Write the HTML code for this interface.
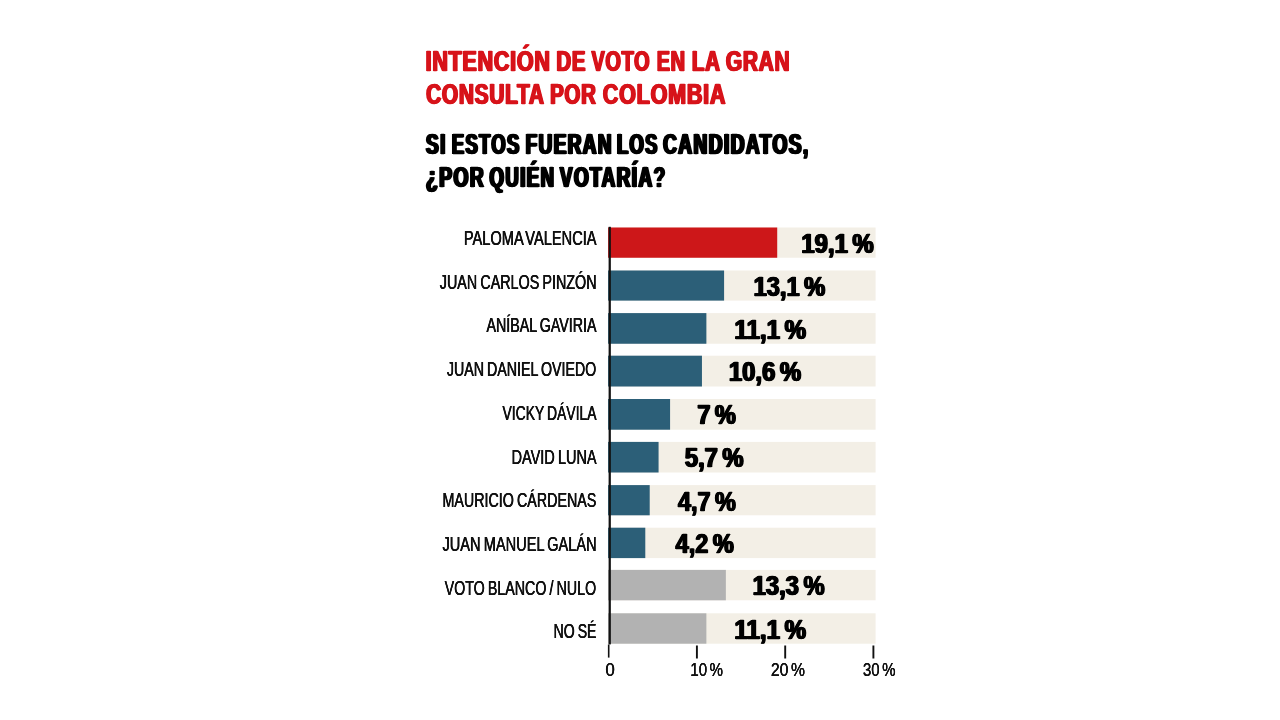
<!DOCTYPE html>
<html lang="es"><head><meta charset="utf-8"><title>Intención de voto en la Gran Consulta por Colombia</title>
<style>
html,body{margin:0;padding:0;background:#fff;}
body{width:1280px;height:720px;position:relative;overflow:hidden;font-family:"Liberation Sans",sans-serif;}
.t{position:absolute;white-space:pre;line-height:1;transform-origin:0 0;margin:0;padding:0;}
.b{position:absolute;}
.g{margin:0;padding:0;font-size:0;font-weight:normal;}
</style></head><body>
<svg class="b" style="left:0;top:0" width="1280" height="720" viewBox="0 0 1280 720" role="img" aria-label="Gráfico de barras">
<rect x="608.10" y="227.50" width="267.50" height="30.25" fill="#f3efe6"/><rect x="608.10" y="227.50" width="169.11" height="30.25" fill="#cd1719"/>
<rect x="608.10" y="270.50" width="267.50" height="30.10" fill="#f3efe6"/><rect x="608.10" y="270.50" width="115.99" height="30.10" fill="#2c5f78"/>
<rect x="608.10" y="313.10" width="267.50" height="30.65" fill="#f3efe6"/><rect x="608.10" y="313.10" width="98.28" height="30.65" fill="#2c5f78"/>
<rect x="608.10" y="355.70" width="267.50" height="30.80" fill="#f3efe6"/><rect x="608.10" y="355.70" width="93.85" height="30.80" fill="#2c5f78"/>
<rect x="608.10" y="399.00" width="267.50" height="30.70" fill="#f3efe6"/><rect x="608.10" y="399.00" width="61.98" height="30.70" fill="#2c5f78"/>
<rect x="608.10" y="441.90" width="267.50" height="30.60" fill="#f3efe6"/><rect x="608.10" y="441.90" width="50.47" height="30.60" fill="#2c5f78"/>
<rect x="608.10" y="485.10" width="267.50" height="30.20" fill="#f3efe6"/><rect x="608.10" y="485.10" width="41.61" height="30.20" fill="#2c5f78"/>
<rect x="608.10" y="527.70" width="267.50" height="30.40" fill="#f3efe6"/><rect x="608.10" y="527.70" width="37.19" height="30.40" fill="#2c5f78"/>
<rect x="608.10" y="569.90" width="267.50" height="30.40" fill="#f3efe6"/><rect x="608.10" y="569.90" width="117.76" height="30.40" fill="#b2b2b2"/>
<rect x="608.10" y="613.30" width="267.50" height="30.40" fill="#f3efe6"/><rect x="608.10" y="613.30" width="98.28" height="30.40" fill="#b2b2b2"/>
<rect x="608.6" y="226.8" width="2.25" height="417.6" fill="#111"/>
<rect x="607.90" y="644.50" width="1.6" height="13.10" fill="#111"/><rect x="695.95" y="645.50" width="1.9" height="13.00" fill="#111"/><rect x="784.25" y="645.50" width="1.9" height="13.00" fill="#111"/><rect x="872.45" y="645.50" width="1.9" height="13.00" fill="#111"/>
</svg>
<h1 class="g"><span class="t" id="t1w0" style="left:0;top:46px;font-size:29.65px;font-weight:700;color:#d7131a;transform:translateX(425.57px) scaleX(0.7268);text-shadow:1.169px 0 0 #d7131a,-1.169px 0 0 #d7131a;-webkit-text-stroke:0.5px #d7131a;letter-spacing:1.0px;">INTENCIÓN</span> <span class="t" id="t1w1" style="left:0;top:46px;font-size:29.65px;font-weight:700;color:#d7131a;transform:translateX(556.46px) scaleX(0.6875);text-shadow:1.236px 0 0 #d7131a,-1.236px 0 0 #d7131a;-webkit-text-stroke:0.5px #d7131a;letter-spacing:1.0px;">DE</span> <span class="t" id="t1w2" style="left:0;top:46px;font-size:29.65px;font-weight:700;color:#d7131a;transform:translateX(591.51px) scaleX(0.6712);text-shadow:1.266px 0 0 #d7131a,-1.266px 0 0 #d7131a;-webkit-text-stroke:0.5px #d7131a;letter-spacing:1.0px;">VOTO</span> <span class="t" id="t1w3" style="left:0;top:46px;font-size:29.65px;font-weight:700;color:#d7131a;transform:translateX(656.73px) scaleX(0.6727);text-shadow:1.264px 0 0 #d7131a,-1.264px 0 0 #d7131a;-webkit-text-stroke:0.5px #d7131a;letter-spacing:1.0px;">EN</span> <span class="t" id="t1w4" style="left:0;top:46px;font-size:29.65px;font-weight:700;color:#d7131a;transform:translateX(691.87px) scaleX(0.6933);text-shadow:1.226px 0 0 #d7131a,-1.226px 0 0 #d7131a;-webkit-text-stroke:0.5px #d7131a;letter-spacing:1.0px;">LA</span> <span class="t" id="t1w5" style="left:0;top:46px;font-size:29.65px;font-weight:700;color:#d7131a;transform:translateX(725.83px) scaleX(0.7067);text-shadow:1.203px 0 0 #d7131a,-1.203px 0 0 #d7131a;-webkit-text-stroke:0.5px #d7131a;letter-spacing:1.0px;">GRAN</span></h1>
<h1 class="g"><span class="t" id="t2w0" style="left:0;top:79px;font-size:29.65px;font-weight:700;color:#d7131a;transform:translateX(426.19px) scaleX(0.7042);text-shadow:1.207px 0 0 #d7131a,-1.207px 0 0 #d7131a;-webkit-text-stroke:0.5px #d7131a;letter-spacing:1.0px;">CONSULTA</span> <span class="t" id="t2w1" style="left:0;top:79px;font-size:29.65px;font-weight:700;color:#d7131a;transform:translateX(550.10px) scaleX(0.6901);text-shadow:1.232px 0 0 #d7131a,-1.232px 0 0 #d7131a;-webkit-text-stroke:0.5px #d7131a;letter-spacing:1.0px;">POR</span> <span class="t" id="t2w2" style="left:0;top:79px;font-size:29.65px;font-weight:700;color:#d7131a;transform:translateX(602.77px) scaleX(0.7287);text-shadow:1.167px 0 0 #d7131a,-1.167px 0 0 #d7131a;-webkit-text-stroke:0.5px #d7131a;letter-spacing:1.0px;">COLOMBIA</span></h1>
<h2 class="g"><span class="t" id="t3w0" style="left:0;top:129px;font-size:29.65px;font-weight:700;color:#000;transform:translateX(426.04px) scaleX(0.6364);text-shadow:1.886px 0 0 #000,-1.886px 0 0 #000;-webkit-text-stroke:0.5px #000;letter-spacing:2.3px;">SI</span> <span class="t" id="t3w1" style="left:0;top:129px;font-size:29.65px;font-weight:700;color:#000;transform:translateX(451.92px) scaleX(0.6161);text-shadow:1.948px 0 0 #000,-1.948px 0 0 #000;-webkit-text-stroke:0.5px #000;letter-spacing:2.3px;">ESTOS</span> <span class="t" id="t3w2" style="left:0;top:129px;font-size:29.65px;font-weight:700;color:#000;transform:translateX(525.61px) scaleX(0.6363);text-shadow:1.886px 0 0 #000,-1.886px 0 0 #000;-webkit-text-stroke:0.5px #000;letter-spacing:2.3px;">FUERAN</span> <span class="t" id="t3w3" style="left:0;top:129px;font-size:29.65px;font-weight:700;color:#000;transform:translateX(616.95px) scaleX(0.6164);text-shadow:1.947px 0 0 #000,-1.947px 0 0 #000;-webkit-text-stroke:0.5px #000;letter-spacing:2.3px;">LOS</span> <span class="t" id="t3w4" style="left:0;top:129px;font-size:29.65px;font-weight:700;color:#000;transform:translateX(663.09px) scaleX(0.6417);text-shadow:1.870px 0 0 #000,-1.870px 0 0 #000;-webkit-text-stroke:0.5px #000;letter-spacing:2.3px;">CANDIDATOS,</span></h2>
<h2 class="g"><span class="t" id="t4w0" style="left:0;top:162px;font-size:29.65px;font-weight:700;color:#000;transform:translateX(425.99px) scaleX(0.6465);text-shadow:1.856px 0 0 #000,-1.856px 0 0 #000;-webkit-text-stroke:0.5px #000;letter-spacing:2.3px;">¿POR</span> <span class="t" id="t4w1" style="left:0;top:162px;font-size:29.65px;font-weight:700;color:#000;transform:translateX(489.54px) scaleX(0.6251);text-shadow:1.920px 0 0 #000,-1.920px 0 0 #000;-webkit-text-stroke:0.5px #000;letter-spacing:2.3px;">QUIÉN</span> <span class="t" id="t4w2" style="left:0;top:162px;font-size:29.65px;font-weight:700;color:#000;transform:translateX(559.89px) scaleX(0.6363);text-shadow:1.886px 0 0 #000,-1.886px 0 0 #000;-webkit-text-stroke:0.5px #000;letter-spacing:2.3px;">VOTARÍA?</span></h2>
<div class="t" id="n0" style="left:0;top:229px;font-size:19.80px;font-weight:400;color:#111;transform:translateX(463.83px) scaleX(0.7392);text-shadow:0.271px 0 0 #111,-0.271px 0 0 #111;word-spacing:-2.2px;">PALOMA VALENCIA</div>
<div class="t" id="v0" style="left:0;top:230px;font-size:28.00px;font-weight:700;color:#000;transform:translateX(801.31px) scaleX(0.8537);text-shadow:0.996px 0 0 #000,-0.996px 0 0 #000;-webkit-text-stroke:0.5px #000;word-spacing:-2.4px;">19,1 %</div>
<div class="t" id="n1" style="left:0;top:273px;font-size:19.80px;font-weight:400;color:#111;transform:translateX(439.77px) scaleX(0.7249);text-shadow:0.276px 0 0 #111,-0.276px 0 0 #111;word-spacing:-1.2px;">JUAN CARLOS PINZÓN</div>
<div class="t" id="v1" style="left:0;top:273px;font-size:28.00px;font-weight:700;color:#000;transform:translateX(753.59px) scaleX(0.8455);text-shadow:1.005px 0 0 #000,-1.005px 0 0 #000;-webkit-text-stroke:0.5px #000;word-spacing:-2.4px;">13,1 %</div>
<div class="t" id="n2" style="left:0;top:316px;font-size:19.80px;font-weight:400;color:#111;transform:translateX(486.47px) scaleX(0.7208);text-shadow:0.277px 0 0 #111,-0.277px 0 0 #111;word-spacing:-1.2px;">ANÍBAL GAVIRIA</div>
<div class="t" id="v2" style="left:0;top:316px;font-size:28.00px;font-weight:700;color:#000;transform:translateX(734.40px) scaleX(0.8609);text-shadow:0.987px 0 0 #000,-0.987px 0 0 #000;-webkit-text-stroke:0.5px #000;word-spacing:-2.4px;">11,1 %</div>
<div class="t" id="n3" style="left:0;top:360px;font-size:19.80px;font-weight:400;color:#111;transform:translateX(446.88px) scaleX(0.7183);text-shadow:0.278px 0 0 #111,-0.278px 0 0 #111;word-spacing:-1.2px;">JUAN DANIEL OVIEDO</div>
<div class="t" id="v3" style="left:0;top:358px;font-size:28.00px;font-weight:700;color:#000;transform:translateX(728.84px) scaleX(0.8526);text-shadow:0.997px 0 0 #000,-0.997px 0 0 #000;-webkit-text-stroke:0.5px #000;word-spacing:-2.4px;">10,6 %</div>
<div class="t" id="n4" style="left:0;top:404px;font-size:19.80px;font-weight:400;color:#111;transform:translateX(502.51px) scaleX(0.7033);text-shadow:0.284px 0 0 #111,-0.284px 0 0 #111;word-spacing:-1.2px;">VICKY DÁVILA</div>
<div class="t" id="v4" style="left:0;top:401px;font-size:28.00px;font-weight:700;color:#000;transform:translateX(697.34px) scaleX(0.8393);text-shadow:1.013px 0 0 #000,-1.013px 0 0 #000;-webkit-text-stroke:0.5px #000;word-spacing:-2.4px;">7 %</div>
<div class="t" id="n5" style="left:0;top:448px;font-size:19.80px;font-weight:400;color:#111;transform:translateX(511.60px) scaleX(0.7322);text-shadow:0.273px 0 0 #111,-0.273px 0 0 #111;word-spacing:-1.2px;">DAVID LUNA</div>
<div class="t" id="v5" style="left:0;top:444px;font-size:28.00px;font-weight:700;color:#000;transform:translateX(684.83px) scaleX(0.8475);text-shadow:1.003px 0 0 #000,-1.003px 0 0 #000;-webkit-text-stroke:0.5px #000;word-spacing:-2.4px;">5,7 %</div>
<div class="t" id="n6" style="left:0;top:491px;font-size:19.80px;font-weight:400;color:#111;transform:translateX(442.46px) scaleX(0.7221);text-shadow:0.277px 0 0 #111,-0.277px 0 0 #111;word-spacing:-1.2px;">MAURICIO CÁRDENAS</div>
<div class="t" id="v6" style="left:0;top:488px;font-size:28.00px;font-weight:700;color:#000;transform:translateX(677.99px) scaleX(0.8358);text-shadow:1.017px 0 0 #000,-1.017px 0 0 #000;-webkit-text-stroke:0.5px #000;word-spacing:-2.4px;">4,7 %</div>
<div class="t" id="n7" style="left:0;top:535px;font-size:19.80px;font-weight:400;color:#111;transform:translateX(442.47px) scaleX(0.7376);text-shadow:0.271px 0 0 #111,-0.271px 0 0 #111;word-spacing:-1.2px;">JUAN MANUEL GALÁN</div>
<div class="t" id="v7" style="left:0;top:530px;font-size:28.00px;font-weight:700;color:#000;transform:translateX(675.68px) scaleX(0.8384);text-shadow:1.014px 0 0 #000,-1.014px 0 0 #000;-webkit-text-stroke:0.5px #000;word-spacing:-2.4px;">4,2 %</div>
<div class="t" id="n8" style="left:0;top:579px;font-size:19.80px;font-weight:400;color:#111;transform:translateX(444.63px) scaleX(0.7203);text-shadow:0.278px 0 0 #111,-0.278px 0 0 #111;word-spacing:-1.2px;">VOTO BLANCO / NULO</div>
<div class="t" id="v8" style="left:0;top:572px;font-size:28.00px;font-weight:700;color:#000;transform:translateX(752.63px) scaleX(0.8499);text-shadow:1.000px 0 0 #000,-1.000px 0 0 #000;-webkit-text-stroke:0.5px #000;word-spacing:-2.4px;">13,3 %</div>
<div class="t" id="n9" style="left:0;top:622px;font-size:19.80px;font-weight:400;color:#111;transform:translateX(553.58px) scaleX(0.7100);text-shadow:0.282px 0 0 #111,-0.282px 0 0 #111;word-spacing:-1.2px;">NO SÉ</div>
<div class="t" id="v9" style="left:0;top:616px;font-size:28.00px;font-weight:700;color:#000;transform:translateX(734.40px) scaleX(0.8605);text-shadow:0.988px 0 0 #000,-0.988px 0 0 #000;-webkit-text-stroke:0.5px #000;word-spacing:-2.4px;">11,1 %</div>
<div class="t" id="a0" style="left:0;top:661px;font-size:18.40px;font-weight:400;color:#111;transform:translateX(605.41px) scaleX(0.9159);text-shadow:0.109px 0 0 #111,-0.109px 0 0 #111;word-spacing:-2px;">0</div>
<div class="t" id="a1" style="left:0;top:661px;font-size:18.40px;font-weight:400;color:#111;transform:translateX(690.37px) scaleX(0.8169);text-shadow:0.122px 0 0 #111,-0.122px 0 0 #111;word-spacing:-2px;">10 %</div>
<div class="t" id="a2" style="left:0;top:661px;font-size:18.40px;font-weight:400;color:#111;transform:translateX(770.93px) scaleX(0.8524);text-shadow:0.117px 0 0 #111,-0.117px 0 0 #111;word-spacing:-2px;">20 %</div>
<div class="t" id="a3" style="left:0;top:661px;font-size:18.40px;font-weight:400;color:#111;transform:translateX(862.88px) scaleX(0.8169);text-shadow:0.122px 0 0 #111,-0.122px 0 0 #111;word-spacing:-2px;">30 %</div>
</body></html>
